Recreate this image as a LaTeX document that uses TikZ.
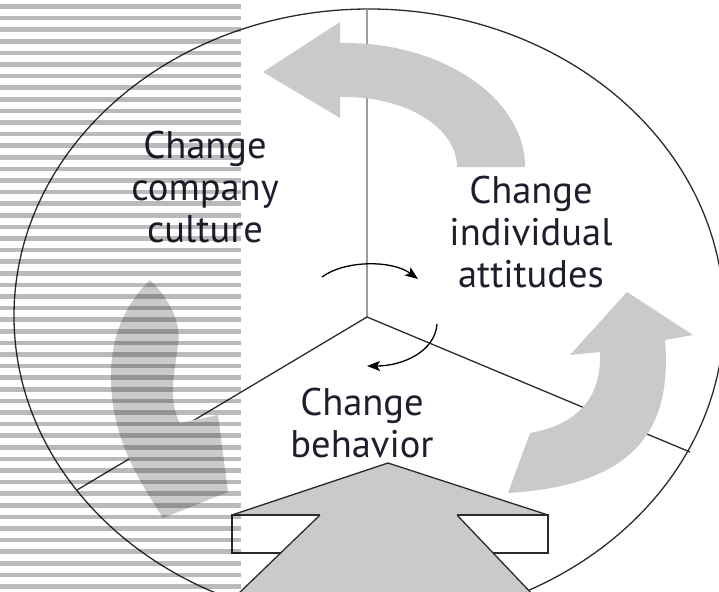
\documentclass[tikz,border=0pt]{standalone}
\usepackage{fontspec}
\setmainfont{PT Sans}
\usetikzlibrary{arrows.meta}
\definecolor{arrowgray}{HTML}{C9CACC}
\definecolor{linedark}{HTML}{2B2B2B}
\definecolor{vgray}{HTML}{9C9C9C}
\definecolor{txt}{HTML}{1E1E2C}
\begin{document}
\begin{tikzpicture}[x=1pt,y=-1pt,
  outline/.style={draw=linedark, line width=1.3pt},
  vline/.style={draw=vgray, line width=2.2pt},
  bigarrow/.style={fill=arrowgray, draw=none},
  lbl/.style={text=txt, font=\fontsize{38.5}{42}\selectfont, align=center, inner sep=0pt},
  turn/.style={draw=black, line width=1.3pt, -{Stealth[length=13pt,width=10pt,inset=3pt]}},
  stripe/.style={fill=black, opacity=0.27}]
\useasboundingbox (0,0) rectangle (719,591);
\clip (0,0) rectangle (719,591);
\fill[white] (0,0) rectangle (719,591);

% outer ellipse and three dividing lines
\draw[outline] (369,316) ellipse [x radius=355, y radius=307];
\coordinate (J) at (367,317);
\coordinate (T) at (367,9);
\coordinate (L) at (77,490);
\coordinate (R) at (690,452);
\draw[vline] (J) -- (T);
\draw[outline] (J) -- (L);
\draw[outline] (J) -- (R);

% bottom big arrow with two white boxes
\draw[outline, fill=white] (232,515) rectangle (325,553);
\draw[outline, fill=white] (455,515) rectangle (548,553);
\fill[arrowgray] (388,463) -- (548,515) -- (457,515) -- (534,596) -- (236,596) -- (320,515) -- (232,515) -- cycle;
\draw[outline] (232,515) -- (388,463) -- (548,515);
\draw[outline] (232,515) -- (320,515);
\draw[outline] (457,515) -- (548,515);
\draw[outline] (320,515) -- (236,596);
\draw[outline] (457,515) -- (534,596);

% top curved arrow (points left)
\path[bigarrow] (340,43) -- (345,43) .. controls (444,43) and (525,99) .. (525,167)
  -- (457,167) .. controls (457,128) and (407,97) .. (345,97) -- (340,97)
  -- (340,118) -- (263,72) -- (340,22) -- cycle;

% right curved arrow (points up)
\path[bigarrow] (600,352) -- (570,355) -- (627,292) -- (693,335) -- (665,340)
  .. controls (672,425) and (640,485) .. (508,493) -- (530,433)
  .. controls (575,425) and (602,400) .. (600,352) -- cycle;

% left curved arrow (points down)
\path[bigarrow] (150,280) .. controls (165,295) and (182,318) .. (178,345)
  .. controls (174,375) and (168,402) .. (180,423) -- (218,415) -- (228,492) -- (163,518)
  .. controls (140,482) and (112,440) .. (111,380)
  .. controls (110,330) and (130,300) .. (150,280) -- cycle;

% labels
\node[lbl] (culture) at (205,187) {Change\\company\\culture};
\node[lbl] (attitudes) at (531,232) {Change\\individual\\attitudes};
\node[lbl] (behavior) at (362,423) {Change\\behavior};

% small black turning arrows
\coordinate (a1s) at (322,277);
\coordinate (a1e) at (418,279);
\draw[turn] (a1s) .. controls (345,260) and (392,260) .. (a1e);
\coordinate (a2s) at (437,324);
\coordinate (a2e) at (367,366);
\draw[turn] (a2s) .. controls (435,352) and (402,366) .. (a2e);

% scanned stripe pattern on the left
\foreach \i in {0,...,50}
  \fill[stripe] (0,{6.5+11.6*\i-2.3}) rectangle (241,{6.5+11.6*\i+2.3});
\end{tikzpicture}
\end{document}
